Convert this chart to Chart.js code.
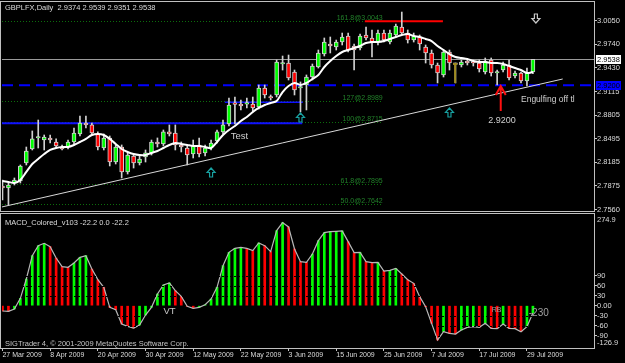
<!DOCTYPE html>
<html>
<head>
<meta charset="utf-8">
<script src="https://cdn.jsdelivr.net/npm/chart.js@4.4.1/dist/chart.umd.min.js"></script>
<style>
  html, body { margin: 0; padding: 0; background: #000; }
  #wrap { position: relative; width: 625px; height: 363px; background: #000; overflow: hidden; }
  canvas { position: absolute; left: 0; }
  #main { top: 0; }
  #macd { top: 213px; }
</style>
</head>
<body>
<div id="wrap">
  <canvas id="main" width="625" height="213"></canvas>
  <canvas id="macd" width="625" height="150"></canvas>
</div>
<script>
// GBPLFX daily, 27 Mar - 30 Jul 2009
const opens = [2.7875, 2.7849, 2.7914, 2.7941, 2.8177, 2.8361, 2.8506, 2.8479, 2.8506, 2.8453,
  2.8387, 2.8387, 2.8453, 2.8558, 2.8703, 2.8677, 2.8558, 2.8374, 2.8506, 2.8190,
  2.8387, 2.8059, 2.8269, 2.8177, 2.8256, 2.8309, 2.8453, 2.8427, 2.8585, 2.8571,
  2.8414, 2.8374, 2.8295, 2.8414, 2.8309, 2.8374, 2.8466, 2.8585, 2.8690, 2.8952,
  2.8952, 2.8950, 2.8952, 2.8913, 2.9163, 2.9044, 2.9071, 2.9478, 2.9491, 2.9373,
  2.9163, 2.9202, 2.9307, 2.9439, 2.9609, 2.9741, 2.9701, 2.9767, 2.9846, 2.9715,
  2.9688, 2.9859, 2.9820, 2.9767, 2.9885, 2.9767, 2.9859, 2.9964, 2.9885, 2.9793,
  2.9833, 2.9701, 2.9623, 2.9465, 2.9334, 2.9636, 2.9478, 2.9465, 2.9517, 2.9504,
  2.9491, 2.9373, 2.9531, 2.9360, 2.9399, 2.9465, 2.9320, 2.9360, 2.9255, 2.9374];
const highs = [2.7954, 2.7914, 2.7980, 2.8151, 2.8387, 2.8598, 2.8742, 2.8545, 2.8545, 2.8493,
  2.8414, 2.8479, 2.8637, 2.8795, 2.8795, 2.8703, 2.8585, 2.8558, 2.8532, 2.8414,
  2.8414, 2.8309, 2.8295, 2.8282, 2.8348, 2.8479, 2.8506, 2.8611, 2.8677, 2.8677,
  2.8453, 2.8414, 2.8479, 2.8506, 2.8414, 2.8479, 2.8611, 2.8742, 2.9031, 2.9044,
  2.9005, 2.9031, 2.9044, 2.9202, 2.9202, 2.9071, 2.9531, 2.9583, 2.9596, 2.9399,
  2.9242, 2.9334, 2.9478, 2.9662, 2.9820, 2.9833, 2.9793, 2.9885, 2.9885, 2.9741,
  2.9872, 2.9964, 2.9925, 2.9925, 2.9925, 2.9925, 3.0004, 3.0161, 2.9925, 2.9885,
  2.9859, 2.9728, 2.9662, 2.9491, 2.9662, 2.9662, 2.9491, 2.9531, 2.9544, 2.9531,
  2.9531, 2.9557, 2.9557, 2.9399, 2.9504, 2.9531, 2.9386, 2.9373, 2.9425, 2.9539];
const lows = [2.7691, 2.7625, 2.7888, 2.7914, 2.8151, 2.8348, 2.8374, 2.8348, 2.8440, 2.8374,
  2.8348, 2.8361, 2.8427, 2.8532, 2.8637, 2.8545, 2.8348, 2.8348, 2.8138, 2.8164,
  2.7980, 2.8032, 2.8111, 2.8151, 2.8190, 2.8282, 2.8387, 2.8401, 2.8532, 2.8348,
  2.8322, 2.8151, 2.8243, 2.8256, 2.8269, 2.8348, 2.8440, 2.8558, 2.8663, 2.8690,
  2.8874, 2.8900, 2.8847, 2.8887, 2.9031, 2.9005, 2.9044, 2.9399, 2.9268, 2.9071,
  2.8847, 2.8874, 2.9268, 2.9425, 2.9583, 2.9623, 2.9662, 2.9728, 2.9636, 2.9399,
  2.9662, 2.9793, 2.9570, 2.9728, 2.9767, 2.9741, 2.9833, 2.9859, 2.9754, 2.9767,
  2.9662, 2.9491, 2.9425, 2.9229, 2.9307, 2.9399, 2.9229, 2.9439, 2.9465, 2.9452,
  2.9373, 2.9347, 2.9320, 2.9202, 2.9373, 2.9268, 2.9294, 2.9229, 2.9189, 2.9351];
const closes = [2.7849, 2.7888, 2.7954, 2.8138, 2.8335, 2.8493, 2.8519, 2.8519, 2.8479, 2.8401,
  2.8361, 2.8453, 2.8571, 2.8703, 2.8677, 2.8571, 2.8387, 2.8506, 2.8190, 2.8387,
  2.8059, 2.8282, 2.8177, 2.8230, 2.8309, 2.8453, 2.8427, 2.8585, 2.8558, 2.8414,
  2.8387, 2.8282, 2.8401, 2.8295, 2.8374, 2.8440, 2.8585, 2.8677, 2.8939, 2.8948,
  2.8926, 2.8954, 2.8900, 2.9163, 2.9071, 2.9031, 2.9504, 2.9482, 2.9294, 2.9136,
  2.9167, 2.9307, 2.9452, 2.9623, 2.9767, 2.9715, 2.9767, 2.9833, 2.9662, 2.9662,
  2.9846, 2.9820, 2.9767, 2.9885, 2.9793, 2.9885, 2.9977, 2.9885, 2.9793, 2.9846,
  2.9741, 2.9623, 2.9465, 2.9360, 2.9636, 2.9491, 2.9474, 2.9504, 2.9491, 2.9491,
  2.9412, 2.9517, 2.9360, 2.9373, 2.9465, 2.9294, 2.9360, 2.9255, 2.9360, 2.9538];
// white moving average
const maPrices = [2.7941, 2.7928, 2.7914, 2.7954, 2.8059, 2.8164, 2.8230, 2.8295, 2.8348, 2.8374,
  2.8387, 2.8387, 2.8414, 2.8453, 2.8493, 2.8545, 2.8558, 2.8545, 2.8493, 2.8427,
  2.8361, 2.8322, 2.8295, 2.8282, 2.8282, 2.8309, 2.8335, 2.8374, 2.8414, 2.8440,
  2.8427, 2.8414, 2.8401, 2.8401, 2.8387, 2.8374, 2.8453, 2.8545, 2.8611, 2.8663,
  2.8729, 2.8782, 2.8847, 2.8900, 2.8939, 2.8966, 2.8992, 2.9110, 2.9189, 2.9229,
  2.9202, 2.9229, 2.9281, 2.9334, 2.9439, 2.9517, 2.9583, 2.9636, 2.9662, 2.9688,
  2.9715, 2.9754, 2.9767, 2.9767, 2.9780, 2.9807, 2.9833, 2.9859, 2.9872, 2.9846,
  2.9833, 2.9807, 2.9780, 2.9715, 2.9662, 2.9609, 2.9570, 2.9557, 2.9544, 2.9517,
  2.9504, 2.9504, 2.9491, 2.9491, 2.9478, 2.9452, 2.9425, 2.9399, 2.9360, 2.9373];
// MACD_Colored histogram
const macd = [-16, -17, -10, 22, 80, 150, 180, 187, 177, 143,
  117, 115, 128, 145, 150, 110, 78, 55, -5, -12,
  -55, -62, -67, -58, -28, -5, 35, 62, 68, 45,
  28, -2, -8, -5, 3, 20, 55, 120, 160, 172,
  175, 172, 165, 188, 180, 162, 225, 249, 236, 170,
  132, 130, 155, 195, 219, 222, 223, 224, 192, 159,
  160, 132, 129, 130, 104, 106, 112, 95, 78, 67,
  27, -3, -53, -103, -78, -83, -85, -73, -65, -63,
  -65, -53, -68, -69, -55, -68, -69, -78, -63, -22.2];

const dateTicks = [0, 8, 16, 24, 32, 40, 48, 56, 64, 72, 80, 88];
const dateLabels = ['27 Mar 2009', '8 Apr 2009', '20 Apr 2009', '30 Apr 2009', '12 May 2009', '22 May 2009',
  '3 Jun 2009', '15 Jun 2009', '25 Jun 2009', '7 Jul 2009', '17 Jul 2009', '29 Jul 2009'];
const priceTicks = [3.0050, 2.9740, 2.9430, 2.9115, 2.8805, 2.8495, 2.8185, 2.7875, 2.7560];
const macdTicks = [90, 60, 30, 0, -30, -60, -90];
const macdLevels = [90, 60, 30, -30, -60, -90];
const macdMax = 274.9, macdMin = -126.9;

// objects drawn on the price chart
const fibLevels = [3.0043, 2.8989, 2.8715, 2.7895, 2.7642];
const fibNames = ['161.8@3.0043', '127@2.8989', '100@2.8715', '61.8@2.7895', '50.0@2.7642'];
const fibEndBar = 63.8;
const supportLevel = 2.9200;
const bidPrice = 2.9538;
const blueSegments = [[-1, 50.3, 2.8700], [37.3, 50.4, 2.8977]];   // from bar, to bar, price
const redSegment = [60.8, 73.9, 3.0040];
const trendBars = [-0.1, 94];
const trendPrices = [2.7599, 2.9281];
const upArrows = [[35, 2.8111], [50, 2.8834], [75, 2.8900]];
const downArrow = [89.5, 3.0135];
const redArrow = [83.6, 2.9189, 2.8860];
const oliveArrow = [75.95, 2.9478, 2.9229];
const priceNotes = [['Test', 38.3, 2.8523], ['2.9200', 81.5, 2.8736], ['Engulfing off tl', 87, 2.9005]];
const macdNotes = [['VT', 27, -17], ['RB', 82.1, -13], ['-230', 88.3, -22]];

const header = 'GBPLFX,Daily  2.9374 2.9539 2.9351 2.9538';
const macdHeader = 'MACD_Colored_v103 -22.2 0.0 -22.2';
const copyright = 'SIGTrader 4, \u00a9 2001-2009 MetaQuotes Software Corp.';

const xMin = -0.08, xMax = 99.25;
const FONT = "'Liberation Sans', Arial, sans-serif";
Chart.defaults.font.family = FONT;
Chart.defaults.color = '#dcdcdc';

const frame = {
  id: 'frame',
  afterDraw(chart) {
    const { ctx, chartArea: a } = chart;
    ctx.save();
    ctx.strokeStyle = '#c0c0c0';
    ctx.lineWidth = 1;
    ctx.strokeRect(0.5, a.top - 0.5, a.right, a.bottom - a.top + 1);
    ctx.restore();
  }
};

function hollowArrow(ctx, cx, top, up, color) {
  const h = 9, hw = 4, sw = 1.5, hh = 4.5;
  const pts = up
    ? [[0, 0], [hw, hh], [sw, hh], [sw, h], [-sw, h], [-sw, hh], [-hw, hh]]
    : [[0, h], [hw, h - hh], [sw, h - hh], [sw, 0], [-sw, 0], [-sw, h - hh], [-hw, h - hh]];
  ctx.beginPath();
  pts.forEach(([dx, dy], k) => k ? ctx.lineTo(cx + dx, top + dy) : ctx.moveTo(cx + dx, top + dy));
  ctx.closePath();
  ctx.strokeStyle = color;
  ctx.lineWidth = 1.2;
  ctx.stroke();
}

const mainOverlay = {
  id: 'mainOverlay',
  beforeDatasetsDraw(chart) {
    const { ctx, chartArea: a, scales: { x, y } } = chart;
    ctx.save();
    ctx.beginPath();
    ctx.rect(a.left, a.top, a.right - a.left, a.bottom - a.top);
    ctx.clip();
    // fibo levels
    const fx = x.getPixelForValue(fibEndBar);
    ctx.strokeStyle = '#0c6e0c';
    ctx.lineWidth = 1;
    ctx.setLineDash([1, 2]);
    fibLevels.forEach(p => {
      const py = Math.round(y.getPixelForValue(p)) + 0.5;
      ctx.beginPath(); ctx.moveTo(a.left, py); ctx.lineTo(fx, py); ctx.stroke();
    });
    ctx.setLineDash([]);
    ctx.fillStyle = '#22802a';
    ctx.font = '7px ' + FONT;
    ctx.textAlign = 'right';
    ctx.textBaseline = 'alphabetic';
    fibLevels.forEach((p, k) => ctx.fillText(fibNames[k], fx, y.getPixelForValue(p) - 1));
    // bid line
    const by = Math.round(y.getPixelForValue(bidPrice)) + 0.5;
    ctx.strokeStyle = '#9a9a9a';
    ctx.beginPath(); ctx.moveTo(a.left, by); ctx.lineTo(a.right, by); ctx.stroke();
    // blue support segments
    ctx.strokeStyle = '#1010ff';
    blueSegments.forEach(([b0, b1, p], k) => {
      const py = y.getPixelForValue(p);
      ctx.lineWidth = k === 0 ? 2 : 1.5;
      ctx.beginPath(); ctx.moveTo(x.getPixelForValue(b0), py); ctx.lineTo(x.getPixelForValue(b1), py); ctx.stroke();
    });
    // dashed 2.9200
    const sy = y.getPixelForValue(supportLevel);
    ctx.strokeStyle = '#0000ff';
    ctx.lineWidth = 2;
    ctx.setLineDash([11, 6]);
    ctx.beginPath(); ctx.moveTo(a.left, sy); ctx.lineTo(a.right, sy); ctx.stroke();
    ctx.setLineDash([]);
    // red resistance
    const ry = y.getPixelForValue(redSegment[2]);
    ctx.strokeStyle = '#ff0000';
    ctx.beginPath(); ctx.moveTo(x.getPixelForValue(redSegment[0]), ry); ctx.lineTo(x.getPixelForValue(redSegment[1]), ry); ctx.stroke();
    ctx.restore();
  },
  afterDatasetsDraw(chart) {
    const { ctx, scales: { x, y } } = chart;
    ctx.save();
    upArrows.forEach(([b, p]) => hollowArrow(ctx, x.getPixelForValue(b), y.getPixelForValue(p), true, '#18a0a0'));
    hollowArrow(ctx, x.getPixelForValue(downArrow[0]), y.getPixelForValue(downArrow[1]), false, '#c8c8c8');
    // red arrow
    const rx = x.getPixelForValue(redArrow[0]);
    const ra = y.getPixelForValue(redArrow[1]);
    const rt = y.getPixelForValue(redArrow[2]);
    ctx.strokeStyle = '#ff1010';
    ctx.lineWidth = 2;
    ctx.beginPath();
    ctx.moveTo(rx, ra + 1); ctx.lineTo(rx, rt);
    ctx.moveTo(rx - 5, ra + 9); ctx.lineTo(rx, ra); ctx.lineTo(rx + 5, ra + 9);
    ctx.stroke();
    // olive arrow
    const ox = x.getPixelForValue(oliveArrow[0]);
    const oa = y.getPixelForValue(oliveArrow[1]);
    const ot = y.getPixelForValue(oliveArrow[2]);
    ctx.strokeStyle = '#a08c20';
    ctx.beginPath(); ctx.moveTo(ox, oa); ctx.lineTo(ox, ot); ctx.stroke();
    ctx.fillStyle = '#a08c20';
    ctx.fillRect(ox - 2, oa - 1, 4, 2);
    // text notes
    ctx.textAlign = 'left';
    ctx.textBaseline = 'middle';
    ctx.fillStyle = '#d0d0d0';
    priceNotes.forEach(([t, b, p], k) => {
      ctx.font = (k === 0 ? '9.5px ' : k === 1 ? '9px ' : '8.5px ') + FONT;
      ctx.fillText(t, x.getPixelForValue(b), y.getPixelForValue(p));
    });
    ctx.restore();
  },
  afterDraw(chart) {
    const { ctx, chartArea: a, scales: { y } } = chart;
    ctx.save();
    ctx.textAlign = 'left';
    ctx.textBaseline = 'middle';
    ctx.font = '7.5px ' + FONT;
    ctx.fillStyle = '#dcdcdc';
    ctx.fillText(header, 5, 7.5);
    const by = Math.round(y.getPixelForValue(bidPrice));
    ctx.fillStyle = '#ffffff';
    ctx.fillRect(a.right + 2, by - 4, 25, 9);
    ctx.fillStyle = '#000000';
    ctx.fillText(bidPrice.toFixed(4), a.right + 3, by + 0.5);
    const sy = Math.round(y.getPixelForValue(supportLevel));
    ctx.fillStyle = '#0000ff';
    ctx.fillRect(a.right + 2, sy - 4, 25, 9);
    ctx.fillStyle = '#000000';
    ctx.fillText(supportLevel.toFixed(4), a.right + 3, sy + 0.5);
    ctx.restore();
  }
};

const macdOverlay = {
  id: 'macdOverlay',
  afterDatasetsDraw(chart) {
    const { ctx, chartArea: a, scales: { y } } = chart;
    ctx.save();
    ctx.strokeStyle = '#000000';
    ctx.lineWidth = 1;
    ctx.setLineDash([2, 2]);
    macdLevels.forEach(v => {
      const py = Math.round(y.getPixelForValue(v)) + 0.5;
      ctx.beginPath(); ctx.moveTo(a.left, py); ctx.lineTo(a.right, py); ctx.stroke();
    });
    ctx.restore();
  },
  afterDraw(chart) {
    const { ctx, chartArea: a, scales: { x, y } } = chart;
    ctx.save();
    ctx.textAlign = 'left';
    ctx.textBaseline = 'middle';
    ctx.font = '7.5px ' + FONT;
    ctx.fillStyle = '#dcdcdc';
    ctx.fillText(macdHeader, 5, a.top + 8.5);
    ctx.fillText(String(macdMax), a.right + 3, a.top + 6);
    ctx.fillText(String(macdMin), a.right + 3, a.bottom - 5);
    ctx.fillStyle = '#c4c4c4';
    ctx.fillText(copyright, 5, a.bottom - 4);
    macdNotes.forEach(([t, b, v], k) => {
      ctx.font = (k === 0 ? '9.5px ' : k === 1 ? '7px ' : '10px ') + FONT;
      ctx.fillStyle = k === 0 ? '#c8c8c8' : '#a0a0a0';
      ctx.fillText(t, x.getPixelForValue(b), y.getPixelForValue(v));
    });
    ctx.restore();
  }
};

const commonOpts = {
  responsive: false,
  animation: false,
  devicePixelRatio: 1,
  events: [],
  plugins: { legend: { display: false }, tooltip: { enabled: false } }
};

new Chart(document.getElementById('main'), {
  type: 'bar',
  data: {
    datasets: [
      { type: 'line', data: maPrices.map((v, i) => ({ x: i, y: v })), borderColor: '#ffffff',
        borderWidth: 2, pointRadius: 0, tension: 0.3, order: 0 },
      { type: 'bar', data: opens.map((o, i) => ({ x: i, y: [o, closes[i]] })),
        backgroundColor: opens.map((o, i) => closes[i] >= o ? '#00ff00' : '#ff0000'),
        borderColor: '#d0d0d0', borderWidth: 1, borderSkipped: false,
        barThickness: 4, minBarLength: 1.5, grouped: false, order: 1 },
      { type: 'bar', data: lows.map((l, i) => ({ x: i, y: [l, highs[i]] })),
        backgroundColor: '#d0d0d0', borderWidth: 0, barThickness: 1, grouped: false, order: 2 },
      { type: 'line', data: trendBars.map((b, k) => ({ x: b, y: trendPrices[k] })),
        borderColor: '#d8d8d8', borderWidth: 1, pointRadius: 0, order: 3 }
    ]
  },
  options: {
    ...commonOpts,
    layout: { autoPadding: false, padding: { top: 2, left: 2, bottom: 2, right: 0 } },
    scales: {
      x: { type: 'linear', min: xMin, max: xMax, offset: false, display: false },
      y: {
        position: 'right', min: 2.7546, max: 3.0293,
        afterBuildTicks: s => { s.ticks = priceTicks.map(v => ({ value: v })); },
        afterFit: s => { s.width = 31; s.paddingTop = 0; s.paddingBottom = 0; },
        ticks: { padding: 0, font: { size: 7.5 }, color: '#dcdcdc', callback: v => v.toFixed(4) },
        grid: { drawOnChartArea: false, drawTicks: true, tickLength: 3, color: '#c8c8c8' },
        border: { display: false }
      }
    }
  },
  plugins: [mainOverlay, frame]
});

new Chart(document.getElementById('macd'), {
  type: 'bar',
  data: {
    datasets: [
      { type: 'line', data: macd.map((v, i) => ({ x: i, y: v })), borderColor: '#b8b8b8',
        borderWidth: 1.2, pointRadius: 0, tension: 0, order: 0 },
      { type: 'bar', data: macd.map((v, i) => ({ x: i, y: v })),
        backgroundColor: macd.map((v, i) => i > 0 && v > macd[i - 1] ? '#00ff00' : '#ff0000'),
        borderWidth: 0, barThickness: 2, grouped: false, order: 1 }
    ]
  },
  options: {
    ...commonOpts,
    layout: { autoPadding: false, padding: { top: 1, left: 2, bottom: 0, right: 0 } },
    scales: {
      x: {
        type: 'linear', min: xMin, max: xMax, offset: false, position: 'bottom',
        afterBuildTicks: s => { s.ticks = dateTicks.map(v => ({ value: v })); },
        afterFit: s => { s.height = 15; s.paddingLeft = 0; s.paddingRight = 0; },
        ticks: { autoSkip: false, maxRotation: 0, minRotation: 0, align: 'start', padding: 0,
                 font: { size: 7 }, color: '#dcdcdc', callback: (v, i) => dateLabels[i] },
        grid: { drawOnChartArea: false, tickLength: 3, color: '#c8c8c8', offset: false },
        border: { display: false }
      },
      y: {
        position: 'right', min: macdMin, max: macdMax,
        afterBuildTicks: s => { s.ticks = macdTicks.map(v => ({ value: v })); },
        afterFit: s => { s.width = 31; s.paddingTop = 0; s.paddingBottom = 0; },
        ticks: { padding: 0, font: { size: 7.5 }, color: '#dcdcdc', callback: v => v === 0 ? '0.00' : String(v) },
        grid: { drawOnChartArea: false, drawTicks: true, tickLength: 3, color: '#c8c8c8' },
        border: { display: false }
      }
    }
  },
  plugins: [macdOverlay, frame]
});
</script>
</body>
</html>
